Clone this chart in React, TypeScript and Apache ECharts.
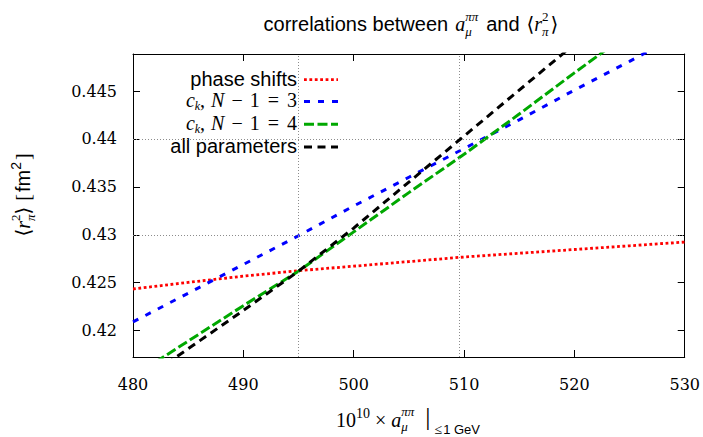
import React, { useEffect, useRef } from 'react';
import * as echarts from 'echarts';

// ---- data ----
const xValues = [480, 485, 490, 495, 500, 505, 510, 515, 520, 525, 530];
const phaseShifts = [0.42434, 0.42503, 0.42568, 0.42625, 0.42672, 0.4272, 0.42768, 0.42807, 0.42846, 0.42885, 0.42924];
const ckN3 = [0.4209, 0.4239, 0.4269, 0.4299, 0.433, 0.436, 0.439, 0.442, 0.4451, 0.4481, 0.4512];
const ckN4 = [0.4152, 0.4189, 0.4226, 0.4262, 0.4303, 0.4344, 0.4384, 0.4426, 0.4469, 0.4511, 0.4553];
const allParams = [0.4141, 0.4181, 0.4221, 0.4262, 0.4307, 0.4355, 0.4403, 0.4451, 0.4499, 0.4547, 0.4595];
const refX = [495, 509.6];
const refY = [0.42617, 0.42757, 0.43809, 0.43997];
const xMin = 480;
const xMax = 530;
const xStep = 10;
const yMin = 0.41724;
const yMax = 0.44887;

const SERIF = '"Liberation Serif", "DejaVu Serif", serif';
const SANS = '"Liberation Sans", Arial, sans-serif';

type Seg = { t: string; sz?: number; fam?: string; it?: boolean; dy?: number; gap?: number; ov?: boolean };

let mctx: CanvasRenderingContext2D | null = null;
function measure(t: string, font: string): number {
  if (!mctx) mctx = document.createElement('canvas').getContext('2d');
  if (!mctx) return t.length * 8;
  mctx.font = font;
  return mctx.measureText(t).width;
}

function mathGroup(segs: Seg[], x: number, y: number, align: 'left' | 'center' | 'right', defSz: number, rotation = 0) {
  let cursor = 0;
  let lastStart = 0;
  const placed: { t: string; font: string; x: number; y: number }[] = [];
  for (const s of segs) {
    const sz = s.sz ?? defSz;
    const font = `${s.it ? 'italic ' : ''}${sz}px ${s.fam ?? SERIF}`;
    const w = measure(s.t, font);
    let x0: number;
    if (s.ov) {
      x0 = lastStart;
      cursor = Math.max(cursor, x0 + w);
    } else {
      x0 = cursor + (s.gap ?? 0);
      lastStart = x0;
      cursor = x0 + w;
    }
    placed.push({ t: s.t, font, x: x0, y: (s.dy ?? 0) - 0.34 * sz });
  }
  const off = align === 'center' ? -cursor / 2 : align === 'right' ? -cursor : 0;
  return {
    type: 'group',
    x,
    y,
    rotation,
    silent: true,
    children: placed.map((p) => ({
      type: 'text',
      x: p.x + off,
      y: p.y,
      style: {
        text: p.t,
        font: p.font,
        fill: '#000',
        textAlign: 'left',
        textVerticalAlign: 'middle',
        align: 'left',
        verticalAlign: 'middle',
      },
    })),
  };
}

const seriesDefs = [
  { name: 'phase shifts', values: phaseShifts, color: '#ff0000', dash: [2.8, 2.6], width: 2.8 },
  { name: 'ck N-1=3', values: ckN3, color: '#0000ff', dash: [6, 8], width: 3 },
  { name: 'ck N-1=4', values: ckN4, color: '#00a800', dash: [10, 3.5], width: 3 },
  { name: 'all parameters', values: allParams, color: '#000000', dash: [8, 5.5], width: 3 },
];

function ckRow(n: string): Seg[] {
  return [
    { t: 'c', it: true },
    { t: 'k', sz: 12, it: true, dy: 3 },
    { t: ',' },
    { t: 'N', it: true, gap: 6 },
    { t: '−', gap: 7 },
    { t: '1', gap: 7 },
    { t: '=', gap: 8 },
    { t: n, gap: 8 },
  ];
}

function buildOption() {
  const tickStyle = { show: true, inside: true, length: 7, lineStyle: { color: '#000', width: 1 } };
  const lineStyle = { show: true, onZero: false, lineStyle: { color: '#000', width: 1 } };
  const yLabelFmt = (v: number) => {
    const k = v * 200;
    return Math.abs(k - Math.round(k)) < 1e-6 ? String(+v.toFixed(3)) : '';
  };

  const legendRows: Seg[][] = [
    [{ t: 'phase shifts', fam: SANS }],
    ckRow('3'),
    ckRow('4'),
    [{ t: 'all parameters', fam: SANS }],
  ];
  const legendLineY = [79.7, 101.5, 124.2, 147];
  const legendGraphics: any[] = [];
  legendRows.forEach((row, i) => {
    legendGraphics.push(mathGroup(row, 297, legendLineY[i] + 5.6, 'right', 20));
    const d = seriesDefs[i];
    legendGraphics.push({
      type: 'line',
      silent: true,
      shape: { x1: 304, y1: legendLineY[i], x2: 338, y2: legendLineY[i] },
      style: { stroke: d.color, lineWidth: d.width, lineDash: d.dash },
    });
  });

  const title = mathGroup(
    [
      { t: 'correlations between', fam: SANS },
      { t: 'a', it: true, gap: 7 },
      { t: 'ππ', sz: 13, it: true, dy: -10 },
      { t: 'μ', sz: 13, it: true, dy: 5, ov: true },
      { t: 'and', fam: SANS, gap: 8 },
      { t: '⟨', gap: 7 },
      { t: 'r', it: true },
      { t: '2', sz: 13, dy: -10 },
      { t: 'π', sz: 13, it: true, dy: 5, ov: true },
      { t: '⟩', gap: 2 },
    ],
    411,
    31,
    'center',
    20
  );

  const xTitle = mathGroup(
    [
      { t: '10' },
      { t: '10', sz: 14, dy: -8.5 },
      { t: '×', gap: 5 },
      { t: 'a', it: true, gap: 5 },
      { t: 'ππ', sz: 13, it: true, dy: -10.5 },
      { t: 'μ', sz: 13, it: true, dy: 4.5, ov: true },
      { t: '|', sz: 26, dy: -1.5, gap: 11 },
      { t: '≤', sz: 14, dy: 8, gap: 4 },
      { t: '1 GeV', sz: 13, fam: SANS, dy: 7.6, gap: 1 },
    ],
    408,
    426.7,
    'center',
    20
  );

  const yTitle = mathGroup(
    [
      { t: '⟨' },
      { t: 'r', it: true },
      { t: '2', sz: 13, dy: -10 },
      { t: 'π', sz: 13, it: true, dy: 5, ov: true },
      { t: '⟩' },
      { t: '[', gap: 6 },
      { t: 'fm', fam: SANS, gap: 2 },
      { t: '2', sz: 14, fam: SANS, dy: -9 },
      { t: ']', gap: 2 },
    ],
    30,
    195,
    'center',
    20,
    Math.PI / 2
  );

  const pairs = (vals: number[]) => xValues.map((x, i) => [x, vals[i]]);

  return {
    animation: false,
    backgroundColor: '#ffffff',
    grid: { left: 133, right: 17, top: 54, bottom: 80, containLabel: false },
    xAxis: [
      {
        type: 'value',
        min: xMin,
        max: xMax,
        interval: xStep,
        position: 'bottom',
        axisLine: lineStyle,
        axisTick: tickStyle,
        splitLine: { show: false },
        axisLabel: { color: '#000', fontFamily: '"DejaVu Serif", serif', fontSize: 16, margin: 19 },
      },
      {
        type: 'value',
        min: xMin,
        max: xMax,
        interval: xStep,
        position: 'top',
        axisLine: lineStyle,
        axisTick: tickStyle,
        splitLine: { show: false },
        axisLabel: { show: false },
      },
    ],
    yAxis: [
      {
        type: 'value',
        min: yMin,
        max: yMax,
        splitNumber: 5,
        position: 'left',
        axisLine: lineStyle,
        axisTick: tickStyle,
        splitLine: { show: false },
        axisLabel: {
          color: '#000',
          fontFamily: '"DejaVu Serif", serif',
          fontSize: 16,
          margin: 16,
          showMinLabel: false,
          showMaxLabel: false,
          formatter: yLabelFmt,
        },
      },
      {
        type: 'value',
        min: yMin,
        max: yMax,
        splitNumber: 5,
        position: 'right',
        axisLine: lineStyle,
        axisTick: tickStyle,
        splitLine: { show: false },
        axisLabel: { show: false },
      },
    ],
    series: [
      {
        name: 'refs',
        type: 'line',
        z: 1,
        data: [[refX[0], refY[0]]],
        symbol: 'none',
        showSymbol: false,
        lineStyle: { opacity: 0 },
        silent: true,
        markLine: {
          silent: true,
          animation: false,
          symbol: ['none', 'none'],
          label: { show: false },
          emphasis: { disabled: true },
          lineStyle: { color: '#8c8c8c', width: 1, type: [1, 2] },
          data: [...refX.map((v) => ({ xAxis: v })), ...refY.map((v) => ({ yAxis: v }))],
        },
      },
      ...seriesDefs.map((d, i) => ({
        name: d.name,
        type: 'line',
        z: 2 + i,
        data: pairs(d.values),
        symbol: 'none',
        showSymbol: false,
        clip: true,
        silent: true,
        lineStyle: { color: d.color, width: d.width, type: d.dash },
      })),
    ],
    graphic: [title, xTitle, yTitle, ...legendGraphics],
  };
}

export default function App() {
  const ref = useRef<HTMLDivElement>(null);
  useEffect(() => {
    if (!ref.current) return;
    const chart = echarts.init(ref.current, undefined, { renderer: 'svg' });
    chart.setOption(buildOption() as any);
    return () => chart.dispose();
  }, []);
  return (
    <div
      ref={ref}
      style={{ position: 'absolute', left: 0, top: 0, width: 703, height: 437, background: '#fff' }}
    />
  );
}
